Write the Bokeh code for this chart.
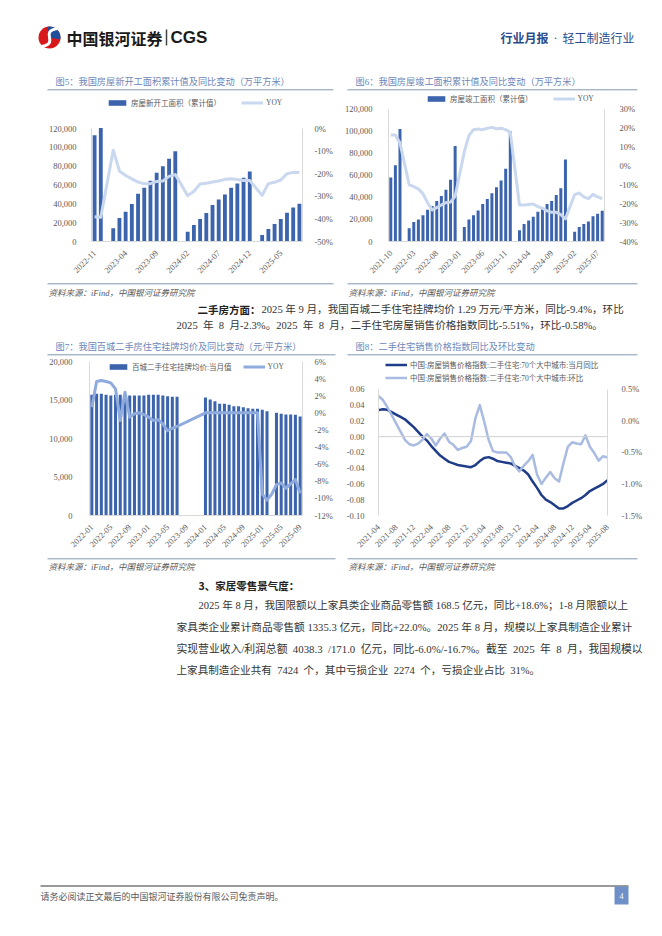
import math
import pandas as pd
from bokeh.plotting import figure
from bokeh.models import (Range1d, LinearAxis, FixedTicker, NumeralTickFormatter,
                          PrintfTickFormatter, Legend, LegendItem, Span, ColumnDataSource)
from bokeh.layouts import column, row
from bokeh.embed import file_html
from bokeh.resources import INLINE
from bokeh.core.properties import value

SERIF = "Liberation Serif"
MIX = "Liberation Serif, Noto Sans CJK SC"
CJK = "Noto Sans CJK SC"
BAR = "#3b64ad"
TICK = "#595959"


def month_labels(start, n):
    return [p.strftime("%Y-%m") for p in pd.period_range(start, periods=n, freq="M")]


# ---------------- Data: Fig 5 (new starts, cumulative) ----------------
ns_months = month_labels("2022-11", 34)
ns_area = [112900, 120600, None, 14200, 24900, 31700, 39900, 50600, 57000, 64500, 73000,
           79800, 88000, 95800, None, 10300, 17400, 23900, 30300, 38800, 44500, 49900,
           57000, 61600, 67700, 74400, None, 6800, 13200, 18500, 23900, 30600, 36000, 40200]
ns_yoy = [-39.0, -39.3, None, -9.6, -18.8, -20.8, -22.3, -23.7, -24.5, -24.4, -23.4,
          -23.2, -21.2, -20.4, None, -29.7, -27.8, -24.6, -24.2, -23.7, -23.2, -22.5,
          -22.2, -22.6, -23.0, -23.0, None, -29.6, -24.4, -23.8, -22.8, -20.0, -19.4, -19.5]
ns_ticks = ["2022-11", "2023-04", "2023-09", "2024-02", "2024-07", "2024-12", "2025-05"]

# ---------------- Data: Fig 6 (completions, cumulative) ----------------
cp_months = month_labels("2021-10", 47)
cp_area = [57950, 69070, 101850, None, 12000, 17560, 19900, 23700, 28700, 32200, 36600,
           41300, 46800, 55900, 86600, None, 13200, 19900, 23700, 28100, 34000, 38600,
           43600, 49200, 55300, 65900, 99800, None, 10200, 15800, 19000, 22500, 26900,
           29300, 34000, 36600, 42100, 48300, 74300, None, 8800, 13200, 15800, 18100,
           22800, 25200, 27800]
cp_yoy = [16.3, 16.3, 12.0, None, -10.0, -11.0, -12.2, -14.7, -19.5, -23.3, -22.1,
          -20.7, -19.5, -19.2, -16.1, None, 7.5, 16.0, 19.1, 19.4, 19.1, 19.8, 20.3,
          19.6, 19.8, 19.1, 17.7, None, -20.7, -20.7, -20.4, -20.2, -21.6, -22.4, -23.8,
          -24.6, -24.6, -25.8, -28.0, None, -15.2, -14.4, -16.4, -17.3, -15.1, -16.4, -17.3]
cp_ticks = ["2021-10", "2022-03", "2022-08", "2023-01", "2023-06", "2023-11",
            "2024-04", "2024-09", "2025-02", "2025-07"]

# ---------------- Data: Fig 7 (100-city listing price) ----------------
lp_months = month_labels("2022-01", 45)
lp_price = [15670, 15800, 15800, 15670, 15580, 15670, 15670, 15580, 15580, 15580, 15580,
            15580, 15670, 15670, 15670, 15580, 15500, 15410, 15410, None, None, None, None,
            None, 15320, 15060, 14850, 14500, 14500, 14370, 14200, 14200, 14070, 13940,
            13850, 13850, 13720, 13550, None, 13330, 13200, 13120, 13120, 13070, 12860]
lp_yoy = [0.66, 3.66, 3.78, 3.66, 3.5, 2.8, -0.9, 2.4, -0.5, -0.1, 0.0, -0.2, -0.5, -0.9,
          -0.8, -1.3, -2.1, -1.8, -1.6, None, None, None, None, None, 0.0, 0.0, 0.0, 0.0,
          0.0, 0.0, 0.0, 0.0, 0.0, 0.0, 0.0, 0.0, -9.5, -10.2, -9.5, -8.4, -8.2, -8.8,
          -8.3, -7.8, -9.4]
lp_ticks = ["2022-01", "2022-05", "2022-09", "2023-01", "2023-05", "2023-09", "2024-01",
            "2024-05", "2024-09", "2025-01", "2025-05", "2025-09"]

# ---------------- Data: Fig 8 (70-city second-hand price index) ----------------
pi_months = month_labels("2021-04", 53)
pi_yoy = [0.0336, 0.0348, 0.034, 0.031, 0.028, 0.025, 0.022, 0.017, 0.012, 0.006,
          0.000, -0.005, -0.012, -0.018, -0.024, -0.028, -0.032, -0.034, -0.036, -0.037,
          -0.038, -0.0387, -0.036, -0.031, -0.027, -0.026, -0.028, -0.031, -0.032, -0.033,
          -0.034, -0.037, -0.040, -0.043, -0.048, -0.057, -0.065, -0.074, -0.080, -0.083,
          -0.087, -0.091, -0.091, -0.088, -0.084, -0.081, -0.078, -0.074, -0.069, -0.066,
          -0.063, -0.060, -0.0551]
pi_mom = [0.395, 0.33, 0.22, 0.09, -0.04, -0.17, -0.30, -0.37, -0.39, -0.36,
          -0.30, -0.21, -0.28, -0.39, -0.28, -0.20, -0.33, -0.38, -0.46, -0.43,
          -0.41, -0.32, 0.04, 0.25, -0.01, -0.30, -0.48, -0.50, -0.50, -0.50,
          -0.57, -0.72, -0.80, -0.71, -0.64, -0.54, -0.85, -1.00, -0.90, -0.81,
          -0.91, -0.96, -0.67, -0.41, -0.34, -0.36, -0.37, -0.23, -0.41, -0.51,
          -0.63, -0.56, -0.58]
pi_ticks = ["2021-04", "2021-08", "2021-12", "2022-04", "2022-08", "2022-12", "2023-04",
            "2023-08", "2023-12", "2024-04", "2024-08", "2024-12", "2025-04", "2025-08"]


# ---------------- helpers ----------------
def nanlist(vals):
    return [float("nan") if v is None else v for v in vals]


def style_axis(ax, standoff=8, line_color="#d9d9d9", size="8.5px"):
    ax.major_tick_line_color = None
    ax.minor_tick_line_color = None
    ax.axis_line_color = line_color
    ax.major_label_text_font = SERIF
    ax.major_label_text_font_size = size
    ax.major_label_text_color = TICK
    ax.major_label_standoff = standoff


def ext(lo, hi, fh, dh):
    # extend the top of a range so that the data span fills dh of a frame of height fh
    return lo + (hi - lo) * fh / dh


def base_chart(width, height, n, ml, mr, mt, mb, y0, y1, pad=0.5):
    p = figure(width=width, height=height, x_range=Range1d(-pad, n - 1 + pad),
               y_range=Range1d(y0, y1), output_backend="svg", toolbar_location=None,
               min_border_left=ml, min_border_right=mr, min_border_top=mt,
               min_border_bottom=mb, outline_line_color=None)
    p.grid.visible = False
    p.background_fill_color = "white"
    p.border_fill_color = "white"
    return p


def month_axis(p, months, ticks, line_color="#d9d9d9"):
    idx = [months.index(t) for t in ticks]
    ax = p.xaxis[0]
    ax.ticker = FixedTicker(ticks=idx)
    ax.major_label_overrides = {i: months[i] for i in idx}
    ax.major_label_orientation = math.pi / 4
    style_axis(ax, standoff=4, line_color=line_color)


def legend(items, loc, orientation="horizontal", size="7.5px", spacing=20):
    return Legend(items=items, location=loc, orientation=orientation,
                  label_text_font=MIX, label_text_font_size=size, label_text_color=TICK,
                  glyph_width=22, glyph_height=7, label_height=10, label_standoff=3,
                  spacing=spacing, padding=0, margin=0, border_line_color=None,
                  background_fill_alpha=0)


def bar_line_chart(width, height, months, bars, yoy, ticks, ml, mr, mt, mb, ext_px,
                   ymax, ystep, yr, ystep_r, r_fmt, bar_w, line_color, line_w, labels,
                   legend_loc, lstand, rstand, spacing=20):
    n = len(months)
    fh = height - mt - mb
    dh = fh - ext_px
    p = base_chart(width, height, n, ml, mr, mt, mb, 0, ext(0, ymax, fh, dh))
    p.extra_y_ranges = {"yoy": Range1d(yr[0], ext(yr[0], yr[1], fh, dh))}
    src = ColumnDataSource(dict(x=list(range(n)), v=nanlist(bars)))
    rb = p.vbar(x="x", top="v", width=bar_w, source=src, fill_color=BAR, line_color=None)
    lx = [i for i, v in enumerate(yoy) if v is not None]
    ly = [v for v in yoy if v is not None]
    rl = p.line(lx, ly, y_range_name="yoy", line_color=line_color, line_width=line_w,
                line_join="round")
    yl = p.yaxis[0]
    yl.ticker = FixedTicker(ticks=list(range(0, ymax + 1, ystep)))
    yl.formatter = NumeralTickFormatter(format="0,0")
    yl.bounds = (0, ymax)
    style_axis(yl, standoff=lstand)
    ticks_r = []
    t = yr[0]
    while t <= yr[1] + 1e-9:
        ticks_r.append(t)
        t += ystep_r
    ar = LinearAxis(y_range_name="yoy", ticker=FixedTicker(ticks=ticks_r),
                    formatter=PrintfTickFormatter(format=r_fmt), bounds=yr)
    style_axis(ar, standoff=rstand)
    p.add_layout(ar, "right")
    month_axis(p, months, ticks)
    lg = legend([LegendItem(label=labels[0], renderers=[rb]),
                 LegendItem(label=labels[1], renderers=[rl])], legend_loc, spacing=spacing)
    p.add_layout(lg)
    return p


# ---------------- charts ----------------
f5 = bar_line_chart(340, 188, ns_months, ns_area, ns_yoy, ns_ticks, 91, 38, 2, 39, 34,
                    120000, 20000, (-50, 0), 10, "%d%%", 0.62, "#c9d8ef", 3,
                    ["房屋新开工面积（累计值）", "YOY"], (15, 133), 9, 6)
f6 = bar_line_chart(314, 188, cp_months, cp_area, cp_yoy, cp_ticks, 48, 50, 2, 34, 15,
                    120000, 20000, (-40, 30), 10, "%d%%", 0.65, "#c9d8ef", 3,
                    ["房屋竣工面积（累计值）", "YOY"], (37, 137), 10, 9)
f7 = bar_line_chart(340, 200, lp_months, lp_price, lp_yoy, lp_ticks, 89, 38, 2, 41, 3,
                    20000, 5000, (-12, 6), 2, "%d%%", 0.64, "#8faadc", 3,
                    ["百城二手住宅挂牌均价:当月值", "YOY"], (18, 143), 11, 6, spacing=11)

# Fig 8: two lines
n8 = len(pi_months)
fh8, dh8 = 200 - 2 - 40, 200 - 2 - 40 - 31
f8 = base_chart(314, 200, n8, 38, 47, 2, 40, -0.10, ext(-0.10, 0.06, fh8, dh8), pad=0)
f8.extra_y_ranges = {"mom": Range1d(-1.5, ext(-1.5, 0.5, fh8, dh8))}
f8.add_layout(Span(location=0, dimension="width", line_color="#d0d0d0", line_width=1))
r_yoy = f8.line(list(range(n8)), pi_yoy, line_color="#1f3c88", line_width=2.5,
                line_join="round")
r_mom = f8.line(list(range(n8)), pi_mom, y_range_name="mom", line_color="#a9bbe0",
                line_width=2.5, line_join="round")
ya8 = f8.yaxis[0]
ya8.ticker = FixedTicker(ticks=[-0.10, -0.08, -0.06, -0.04, -0.02, 0.0, 0.02, 0.04, 0.06])
ya8.formatter = NumeralTickFormatter(format="0.00")
ya8.bounds = (-0.10, 0.06)
style_axis(ya8, standoff=8)
ar8 = LinearAxis(y_range_name="mom", ticker=FixedTicker(ticks=[-1.5, -1.0, -0.5, 0.0, 0.5]),
                 formatter=PrintfTickFormatter(format="%.1f%%"), bounds=(-1.5, 0.5))
style_axis(ar8, standoff=8)
f8.add_layout(ar8, "right")
month_axis(f8, pi_months, pi_ticks, line_color=None)
lg8 = legend([LegendItem(label="中国:房屋销售价格指数:二手住宅:70个大中城市:当月同比", renderers=[r_yoy]),
              LegendItem(label="中国:房屋销售价格指数:二手住宅:70个大中城市:环比", renderers=[r_mom])],
             (7, 132), orientation="vertical", spacing=2)
f8.add_layout(lg8)


# ---------------- text strips ----------------
def strip(y0, y1):
    p = figure(width=654, height=int(y1 - y0), x_range=Range1d(0, 654),
               y_range=Range1d(y1, y0), output_backend="svg", toolbar_location=None,
               min_border=0, outline_line_color=None, x_axis_type=None, y_axis_type=None)
    p.grid.visible = False
    return p


def txt(p, x, y, s, size, color="#333333", font=MIX, style="normal", align="left"):
    p.text(x=[x], y=[y], text=[s], text_font=value(font), text_font_size=value(f"{size}px"),
           text_color=color, text_font_style=style, text_align=align,
           text_baseline="middle")


def hline(p, x0, x1, y, color="#8497b0", w=1):
    p.segment(x0=[x0], y0=[y], x1=[x1], y1=[y], line_color=color, line_width=w)


EN = "\u2002"  # wider inter-word space, closer to the report's half-width spacing
TITLE_C = "#6d87b8"
SRC = "资料来源：iFind，中国银河证券研究院"

t1 = strip(0, 92)
t1.circle(x=[49], y=[37], radius=11, fill_color="#d7191c", line_color=None)
t1.wedge(x=[49], y=[37], radius=11, start_angle=math.radians(-10),
         end_angle=math.radians(100), fill_color="#1f4e9c", line_color=None)
t1.bezier(x0=[57], y0=[28], x1=[41], y1=[46], cx0=[38], cy0=[31], cx1=[60], cy1=[43],
          line_color="white", line_width=3)
txt(t1, 66, 37, "中国银河证券", 16, color="#1a1a1a", font=CJK, style="bold")
t1.segment(x0=[166], y0=[29], x1=[166], y1=[45], line_color="#444444", line_width=1.5)
txt(t1, 170, 37, "CGS", 17, color="#1a1a1a", font="Liberation Sans", style="bold")
txt(t1, 500, 37, "行业月报", 12, color="#2b4c8c", font=CJK, style="bold")
txt(t1, 555, 37, "·", 12, color="#2b4c8c", font=SERIF, align="center")
txt(t1, 562, 37, "轻工制造行业", 12, color="#2b4c8c", font=CJK)
txt(t1, 55, 81, "图5：我国房屋新开工面积累计值及同比变动（万平方米）", 9.2, color=TITLE_C)
txt(t1, 355, 81, "图6：我国房屋竣工面积累计值及同比变动（万平方米）", 9.2, color=TITLE_C)
hline(t1, 47, 333, 89.3)
hline(t1, 347, 637, 89.3)

t2 = strip(280, 356)
hline(t2, 47, 333, 283.3)
hline(t2, 347, 637, 283.3)
txt(t2, 48, 292, SRC, 8.5, color=TICK, style="italic")
txt(t2, 348, 292, SRC, 8.5, color=TICK, style="italic")
txt(t2, 197, 309, "二手房方面：", 10.5, color="#222222", font=CJK, style="bold")
txt(t2, 261, 309, "2025 年 9 月，我国百城二手住宅挂牌均价 1.29 万元/平方米，同比-9.4%，环比", 10.6)
txt(t2, 176, 325, ("2025 年 8 月-2.3%。2025 年 8 月，二手住宅房屋销售价格指数同比-5.51%，环比-0.58%。"
                   ).replace(" ", EN), 10.6)
txt(t2, 55, 346, "图7：我国百城二手房住宅挂牌均价及同比变动（元/平方米）", 9.2, color=TITLE_C)
txt(t2, 355, 346, "图8：二手住宅销售价格指数同比及环比变动", 9.2, color=TITLE_C)
hline(t2, 47, 335, 354.3)
hline(t2, 347, 637, 354.3)

t3 = strip(556, 928)
hline(t3, 47, 335, 558.3)
hline(t3, 347, 637, 558.3)
txt(t3, 48, 566.5, SRC, 8.5, color=TICK, style="italic")
txt(t3, 348, 566.5, SRC, 8.5, color=TICK, style="italic")
txt(t3, 198, 585, "3、家居零售景气度：", 10.5, color="#222222", font=CJK, style="bold")
para = [
    (198, 605, 10.55, "2025 年 8 月，我国限额以上家具类企业商品零售额 168.5 亿元，同比+18.6%；1-8 月限额以上"),
    (176, 626.5, 10.7, "家具类企业累计商品零售额 1335.3 亿元，同比+22.0%。2025 年 8 月，规模以上家具制造企业累计"),
    (176, 648, 10.8, "实现营业收入/利润总额 4038.3 /171.0 亿元，同比-6.0%/-16.7%。截至 2025 年 8 月，我国规模以"
     .replace(" ", EN)),
    (176, 669.5, 10.6, "上家具制造企业共有 7424 个，其中亏损企业 2274 个，亏损企业占比 31%。".replace(" ", EN)),
]
for x, y, sz, s in para:
    txt(t3, x, y, s, sz)
hline(t3, 40, 628, 885.5, color="#333333", w=1)
txt(t3, 40, 896, "请务必阅读正文最后的中国银河证券股份有限公司免责声明。", 9, color=TICK)
t3.quad(left=[614], right=[628], top=[886], bottom=[904], fill_color="#6f8fc8", line_color=None)
txt(t3, 621, 895, "4", 8, color="white", font=SERIF, align="center")

layout = column(t1, row(f5, f6), t2, row(f7, f8), t3)

open("out.html", "w").write(file_html(layout, INLINE))
